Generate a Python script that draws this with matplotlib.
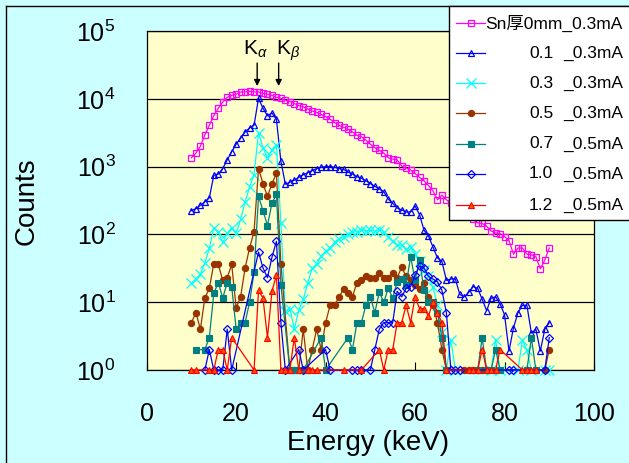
import matplotlib
matplotlib.use('Agg')
import matplotlib.pyplot as plt
from matplotlib.lines import Line2D
from matplotlib.patches import Rectangle

plt.rcParams['font.family'] = ['Liberation Sans', 'Noto Sans CJK JP', 'DejaVu Sans']
plt.rcParams['mathtext.fontset'] = 'custom'
plt.rcParams['mathtext.rm'] = 'Liberation Sans'
plt.rcParams['mathtext.it'] = 'Liberation Sans:italic'
plt.rcParams['mathtext.bf'] = 'Liberation Sans:bold'

# ---------------- data (counts per 1 keV bin, None = not plotted) ----------------
energy_keV = list(range(10, 91))

sn_0mm_03mA = [1350, 1580, 2000, 2950, 4070, 5620, 7240, 8910, 10500, 11200,
               11700, 12600, 12600, 12900, 12600, 12600, 12000, 11700, 11200, 10500,
               10200, 9550, 9120, 8510, 7940, 7590, 7080, 6610, 6310, 5880,
               5500, 5010, 4470, 4070, 3800, 3550, 3240, 2880, 2750, 2450,
               2140, 1905, 1740, 1585, 1350, 1290, 1260, 1020, 955, 891,
               794, 692, 617, 525, 437, 324, 380, 324, 288, 263,
               234, 204, 186, 166, 148, 145, 132, 112, 105, 102,
               93, 81, 51, 63, 63, 51, 50, 47, 31, 42,
               63]

sn_01mm_03mA = [224, 240, 269, 302, 347, 741, 776, 933, 1259, 1660,
                2140, 2630, 3240, 3720, 4070, 10200, 7240, 5620, 6170, 5010,
                1200, 550, 589, 631, 692, 759, 813, 871, 933, 977,
                1000, 1000, 977, 933, 912, 832, 776, 708, 676, 617,
                562, 513, 468, 427, 331, 288, 245, 229, 214, 214,
                263, 195, 115, 95, 65, 45, 40, 21, 22, 22,
                13, 12, 14, 17, 16, 11, 7.5, 11.5, 12, 9.5,
                6.5, 1.9, 4.2, 7, 9, 9, 3.5, 4, 1.9, 4,
                5]

sn_03mm_03mA = [19, 22, 26, 38, 62, 126, 107, 76, 105, 126,
                105, 166, 302, 501, 759, 3160, 1905, 1318, 1778, 2089,
                145, 7.4, 8, 4, 7.6, 11, 19, 32, 36, 48,
                56, 63, 76, 87, 93, 100, 107, 110, 117, 112,
                115, 112, 117, 110, 93, 79, 69, 69, 60, 66,
                52, 40, 30, 24, 16.6, 9, 3.6, 1, 2.8, 1,
                None, None, None, None, None, None, None, 1, 2.8, 1,
                None, None, None, 1, 2.8, 1.95, 1, None, None, 1,
                1]

sn_05mm_03mA = [5, 7, 4, 11.5, 16, 37, 36, 21, 23, 36,
                8.3, 12, 32, 63, 110, 933, 562, 363, 562, 794,
                37, None, 1, 1, 1, 4, 1, 2, 4, 2,
                5, 9, 9, 12, 15.5, 13.5, 12, 19.5, 21, 24,
                23, 23, 27, 23, 23, 27, 23, 33, 24, 21,
                18, 15.5, 19.5, 12, 9, 5, 2, 1, None, None,
                None, 1, 1, 1, 1, 1, None, None, None, None,
                None, None, None, None, None, None, None, None, None, 1,
                2]

sn_07mm_05mA = [None, 2, None, 2, 3, 13.5, 19.5, 11.5, 19.5, 17,
                4, 5, 5, 10, 27.5, 363, 224, 135, 288, 389,
                18, None, 1, 1, 1, 1, None, None, None, 3,
                1, None, None, None, None, 3, 2, 5, 5, 9,
                12, 7, 14, 10, 16, 11.5, 20, 22, 18, 47,
                21, 42, 15, 10, 10, 7, 3, 1, None, None,
                None, None, None, None, 1, 3, 1, 1, 2, 1,
                None, None, None, None, None, 1, 3, 1, None, None,
                None]

sn_10mm_05mA = [None, None, None, 1, 2, 1, 1, 1, 4, 1,
                None, None, None, None, None, 55, 32, 23, 46, 79,
                5, 1, None, None, 2, 1, None, None, None, None,
                2, 1, None, None, None, None, 1, 1, 1, None,
                1, 2, 4, 5, 5, 5, 14.5, 12, 16, 17,
                25, 34, 32, 24, 22, 20, 15, 7, 1, 1,
                1, None, None, None, None, None, None, None, None, None,
                None, 1, 1, None, None, None, None, None, None, 1,
                3]

sn_12mm_05mA = [1, 1, None, None, 1, 1, 2, 2, 1, 3,
                None, None, None, None, 1, 15, 11.5, 3, 14.5, 25,
                1, 1, 1, 3, 1, None, 1, 1, 1, None,
                None, None, None, None, 1, None, None, None, 1, None,
                None, None, 2, 1, 2, 2, 5, 5, 9, 5,
                12, 8, 8, 6.3, 10, 7, 5, 1, None, None,
                None, None, 1, 1, 1, 2, 1, 1, 1, 2,
                None, None, None, None, 1, 1, 1, 1, None, None,
                None]

series = [sn_0mm_03mA, sn_01mm_03mA, sn_03mm_03mA, sn_05mm_03mA,
          sn_07mm_05mA, sn_10mm_05mA, sn_12mm_05mA]
legend_first = 'Sn厚0mm_0.3mA'
thickness_labels = ['0.1', '0.3', '0.5', '0.7', '1.0', '1.2']
current_labels = ['_0.3mA', '_0.3mA', '_0.3mA', '_0.5mA', '_0.5mA', '_0.5mA']

y_ticks = [1, 10, 100, 1000, 10000, 100000]
y_tick_labels = [r'$\mathregular{10^{%d}}$' % k for k in range(6)]
x_ticks = [0, 20, 40, 60, 80, 100]

# ---------------- styles ----------------
styles = [
    dict(color='#FF00FF', marker='s', mfc='none', mec='#FF00FF', ms=4.2, mew=0.9),
    dict(color='#0000FF', marker='^', mfc='none', mec='#0000FF', ms=5.0, mew=0.9),
    dict(color='#00FFFF', marker='x', mec='#00FFFF', ms=6.5, mew=0.9),
    dict(color='#993300', marker='o', mfc='#993300', mec='#993300', ms=4.5, mew=0.8),
    dict(color='#008080', marker='s', mfc='#008080', mec='#008080', ms=4.5, mew=0.8),
    dict(color='#0000FF', marker='D', mfc='none', mec='#0000FF', ms=3.6, mew=0.9),
    dict(color='#FF0000', marker='^', mfc='#FF5500', mec='#FF0000', ms=5.0, mew=0.8),
]

W, H = 629, 463
fig = plt.figure(figsize=(W / 100, H / 100), dpi=100)
fig.patch.set_facecolor('#CCFFFF')

def fx(px):
    return px / W

def fy(py):
    return (H - py) / H

ax = fig.add_axes([fx(146.7), fy(370), (594 - 146.7) / W, (370 - 31) / H])
ax.set_facecolor('#FFFFCC')
ax.set_yscale('log')
ax.set_xlim(0, 100)
ax.set_ylim(1, 1e5)

for vals, st in zip(series, styles):
    xs = [e for e, v in zip(energy_keV, vals) if v is not None]
    ys = [v for v in vals if v is not None]
    ax.plot(xs, ys, lw=0.9, clip_on=False, zorder=3, **st)

ax.set_yticks(y_ticks)
ax.set_yticklabels(y_tick_labels)
ax.yaxis.set_minor_locator(matplotlib.ticker.NullLocator())
ax.set_xticks(x_ticks)
ax.set_xticklabels([str(t) for t in x_ticks])
ax.tick_params(axis='x', direction='in', length=5.8, width=0.8, labelsize=18, pad=23)
ax.tick_params(axis='y', length=0, labelsize=18, pad=22.5)
ax.grid(axis='y', which='major', color='black', lw=0.9)
ax.set_axisbelow(True)
for sp in ax.spines.values():
    sp.set_color('black')
    sp.set_linewidth(0.9)

ax.set_xlabel('Energy (keV)', fontsize=20)
ax.xaxis.set_label_coords((368 - 146.7) / 447.3, (370 - 450) / 339)
ax.xaxis.label.set_va('baseline')
ax.set_ylabel('Counts', fontsize=20)
ax.yaxis.set_label_coords((27 - 146.7) / 447.3, (370 - 201) / 339)
ax.yaxis.label.set_va('center')

# K alpha / K beta markers
ax.text(24.4, 44300, r'K$_{\alpha}$', fontsize=15, ha='center', va='baseline')
ax.text(31.6, 44300, r'K$_{\beta}$', fontsize=15, ha='center', va='baseline')
for e in (24.7, 29.5):
    ax.annotate('', xy=(e, 15400), xytext=(e, 33700),
                arrowprops=dict(arrowstyle='-|>', color='black', lw=1.0,
                                mutation_scale=9, shrinkA=0, shrinkB=0))

# chart border (left/top visible)
fig.add_artist(Line2D([fx(5.5), fx(5.5)], [0, fy(6)], transform=fig.transFigure,
                      color='black', lw=1.0))
fig.add_artist(Line2D([fx(5.5), 1], [fy(6), fy(6)], transform=fig.transFigure,
                      color='black', lw=1.0))

# legend box (manual, right aligned labels)
fig.add_artist(Rectangle((fx(449), fy(220)), (W + 10 - 449) / W, (220 - 6) / H,
                         transform=fig.transFigure, facecolor='white',
                         edgecolor='black', lw=1.0, zorder=5))
entry_y = [23, 53, 83, 113, 144, 174, 205]
for i, (st, py) in enumerate(zip(styles, entry_y)):
    fig.add_artist(Line2D([fx(456), fx(485)], [fy(py), fy(py)], transform=fig.transFigure,
                          color=st['color'], lw=0.9, zorder=6))
    mst = {k: v for k, v in st.items() if k != 'color'}
    fig.add_artist(Line2D([fx(470.5)], [fy(py)], transform=fig.transFigure,
                          linestyle='none', zorder=7, **mst))
    if i == 0:
        fig.text(fx(623), fy(py), legend_first, ha='right', va='center',
                 fontsize=12.5, zorder=8)
    else:
        fig.text(fx(529), fy(py), thickness_labels[i - 1], ha='left', va='center',
                 fontsize=12.5, zorder=8)
        fig.text(fx(623), fy(py), current_labels[i - 1], ha='right', va='center',
                 fontsize=12.5, zorder=8)

fig.savefig('out.png', dpi=100, facecolor=fig.get_facecolor())
